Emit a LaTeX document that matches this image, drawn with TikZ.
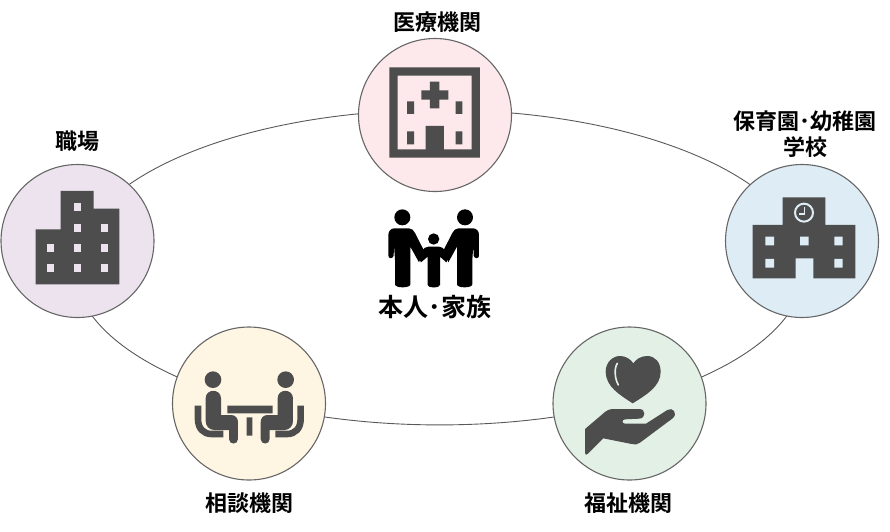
\documentclass[tikz,border=0pt]{standalone}
\usepackage{fontspec}
\newfontfamily\jp{Noto Sans CJK JP Bold}
\definecolor{ic}{HTML}{4D4D4D}
\definecolor{cpink}{HTML}{FDE9EC}
\definecolor{cblue}{HTML}{DEECF6}
\definecolor{cgreen}{HTML}{E2F0E5}
\definecolor{ccream}{HTML}{FFF5E3}
\definecolor{cpurple}{HTML}{ECE3EF}
\tikzset{
  hub/.style={circle,draw=black!60,line width=1.1pt,minimum size=153pt,inner sep=0pt},
  lab/.style={font=\jp\fontsize{22}{25.5}\selectfont,align=center,inner sep=0pt,text=black},
  zoomed/.style={shift={#1},x=.3333pt,y=-.3333pt}
}
\begin{document}
\begin{tikzpicture}[x=1pt,y=-1pt]
\useasboundingbox (0,0) rectangle (890,531);
\draw[black!65,line width=.9pt] (439.5,267.4) ellipse [x radius=365pt,y radius=157.5pt];
\node[hub,fill=cpink] (med) at (435,115) {};
\node[hub,fill=cblue] (sch) at (802,241) {};
\node[hub,fill=cgreen] (wel) at (629.5,403.5) {};
\node[hub,fill=ccream] (con) at (249,403.5) {};
\node[hub,fill=cpurple] (wrk) at (77.5,241) {};
\node[lab] (lmed) at (437.5,22) {医療機関};
\node[lab] (lsch) at (805,134) {保育園･幼稚園\\学校};
\node[lab] (lwel) at (628,503) {福祉機関};
\node[lab] (lcon) at (249,503) {相談機関};
\node[lab] (lwrk) at (77,141) {職場};
\node[lab,font=\jp\fontsize{25}{26}\selectfont] (lfam) at (435,306.7) {本人･家族};
% hospital
\begin{scope}[zoomed={(350,0)}]
\fill[ic,even odd rule] (118,202) rectangle (390,473) (143,227) rectangle (365,448);
\fill[ic] (240,245) rectangle (268,325) (214,271) rectangle (295,299);
\fill[ic] (171,304) rectangle (192,342) (317,304) rectangle (337,342)
 (171,394) rectangle (192,433) (317,394) rectangle (337,433) (227,378) rectangle (282,450);
\end{scope}
% school
\begin{scope}[zoomed={(720,100)}]
\fill[ic] (98,375) -- (188,375) -- (188,292) -- (316,292) -- (316,375) -- (406,375) -- (406,535)
 -- (280,535) -- (280,475) -- (227,475) -- (227,535) -- (98,535) -- cycle;
\fill[cblue] (136,410) rectangle (162,436) (240,410) rectangle (266,436) (343,410) rectangle (368,436)
 (136,477) rectangle (162,503) (343,477) rectangle (368,503);
\draw[cblue,line width=2pt] (252,338) circle [radius=27];
\draw[cblue,line width=1.5pt] (254,320) -- (254,342) -- (236,342);
\end{scope}
% office
\begin{scope}[zoomed={(0,120)}]
\fill[ic] (107,328) -- (182,328) -- (182,213) -- (281,213) -- (281,266) -- (358,266) -- (358,493) -- (107,493) -- cycle;
\foreach \p in {(232,262),(232,323),(313,323),(151,383),(232,383),(313,383),(151,444),(232,444),(313,444)}
  \fill[cpurple] \p +(-10,-12) rectangle +(10,12);
\end{scope}
% heart and hand
\begin{scope}[zoomed={(540,330)}]
\fill[ic] (278,220) .. controls (240,195) and (197,170) .. (197,125)
 .. controls (197,95) and (220,78) .. (240,78) .. controls (258,78) and (272,88) .. (280,100)
 .. controls (288,88) and (302,78) .. (322,78) .. controls (345,78) and (362,97) .. (362,125)
 .. controls (362,170) and (318,195) .. (278,220) -- cycle;
\draw[cgreen,line width=1.6pt,line cap=round] (232,100) .. controls (222,115) and (224,145) .. (235,165);
\fill[ic] (135,297) -- (188,252) .. controls (198,242) and (208,237) .. (220,237) -- (298,237)
 .. controls (318,237) and (318,265) .. (298,266) -- (255,268) .. controls (245,269) and (245,281) .. (255,281)
 -- (318,281) -- (382,240) .. controls (398,230) and (415,250) .. (398,265) -- (300,338)
 .. controls (292,344) and (285,345) .. (275,342) -- (190,325) -- (143,372) .. controls (138,377) and (135,374) .. (135,368) -- cycle;
\end{scope}
% consultation
\begin{scope}[zoomed={(195,365)}]
\fill[ic] (97,122) rectangle (233,145) (155,157) rectangle (172,212);
\foreach \m/\s in {0/1,326/-1}{
\begin{scope}[xshift=\m*.3333pt,xscale=\s]
\fill[ic] (54,44) circle [radius=25];
\fill[ic] (32,100) .. controls (32,70) and (78,70) .. (78,100) -- (78,150) -- (108,150)
 .. controls (122,150) and (129,160) .. (129,172) -- (129,222) .. controls (129,240) and (102,240) .. (102,222)
 -- (102,195) -- (58,195) .. controls (42,195) and (32,182) .. (32,168) -- cycle;
\draw[ic,line width=6.6pt] (9,122) -- (9,162) .. controls (9,190) and (25,207) .. (50,207) -- (85,207);
\end{scope}}
\end{scope}
% family
\begin{scope}[zoomed={(385,205)}]
\foreach \m/\s in {0/1,292/-1}{
\begin{scope}[xshift=\m*.3333pt,xscale=\s]
\fill[black] (52,37) circle [radius=24];
\fill[black] (28,70) -- (72,70) .. controls (80,70) and (86,76) .. (90,84) -- (116,135) -- (102,172)
 -- (76,125) -- (76,238) .. controls (76,250) and (30,250) .. (30,238) -- (30,165) -- (27,120) -- (26,152)
 .. controls (24,162) and (10,162) .. (10,152) -- (10,90) .. controls (10,78) and (18,70) .. (28,70) -- cycle;
\end{scope}}
\fill[black] (146,102) circle [radius=17];
\fill[black] (130,125) -- (162,125) .. controls (170,125) and (175,130) .. (180,136) -- (195,152) -- (184,172)
 -- (165,155) -- (165,240) .. controls (165,250) and (128,250) .. (128,240) -- (128,155)
 -- (108,172) -- (97,152) -- (112,136) .. controls (117,130) and (122,125) .. (130,125) -- cycle;
\end{scope}
\end{tikzpicture}
\end{document}
